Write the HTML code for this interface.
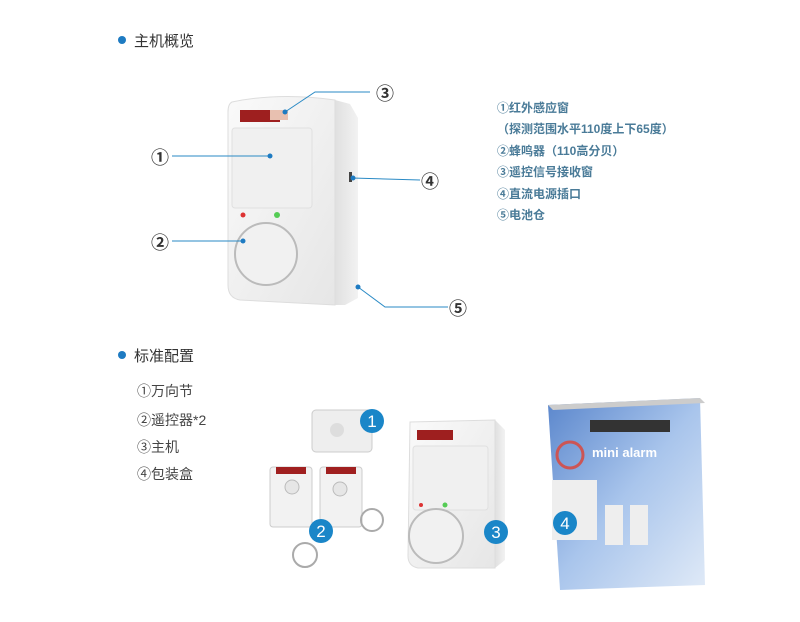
<!DOCTYPE html>
<html><head><meta charset="utf-8"><style>
body{margin:0;width:800px;height:622px;background:#fff;position:relative;overflow:hidden;font-family:"Liberation Sans","Noto Sans CJK SC",sans-serif}
.t{position:absolute;white-space:nowrap}
.h{font-size:15px;color:#333}
.r{font-size:12px;color:#4a7b98;font-weight:bold;left:497px}
.l{font-size:14px;color:#444;left:137px}
.c{font-size:18px;color:#333;font-weight:bold}
</style></head><body>
<svg width="800" height="622" style="position:absolute;left:0;top:0">
<defs>
<linearGradient id="side" x1="0" x2="1"><stop offset="0" stop-color="#e0e0e0"/><stop offset="1" stop-color="#f2f2f2"/></linearGradient>
<linearGradient id="face" x1="0" y1="0" x2="1" y2="1"><stop offset="0" stop-color="#fafafa"/><stop offset="1" stop-color="#e6e6e6"/></linearGradient>
<linearGradient id="box" x1="0" y1="0" x2="1" y2="1"><stop offset="0" stop-color="#5a86cc"/><stop offset="0.5" stop-color="#a9c5ec"/><stop offset="1" stop-color="#e0eaf7"/></linearGradient>
</defs>
<circle cx="122" cy="40" r="4" fill="#1e7bc2"/>
<circle cx="122" cy="355" r="4" fill="#1e7bc2"/>
<polygon points="335,100 350,104 358,118 358,298 345,305 335,305" fill="url(#side)"/>
<path d="M232,102 Q280,92 335,100 L335,305 L240,300 Q228,298 228,285 L228,112 Q228,104 232,102Z" fill="url(#face)" stroke="#ddd"/>
<rect x="240" y="110" width="40" height="12" fill="#9e1f1f"/>
<rect x="270" y="110" width="18" height="10" fill="#e8c0b0"/>
<rect x="232" y="128" width="80" height="80" rx="3" fill="#f0f0f0" stroke="#e0e0e0"/>
<circle cx="243" cy="215" r="2.5" fill="#d33"/>
<circle cx="277" cy="215" r="3" fill="#5c5"/>
<circle cx="266" cy="254" r="31" fill="#f1f1f1" stroke="#bbb" stroke-width="2"/>
<rect x="349" y="172" width="3" height="10" fill="#444"/>
<g stroke="#2a8ac5" stroke-width="1" fill="none">
<line x1="172" y1="156" x2="270" y2="156"/>
<line x1="172" y1="241" x2="243" y2="241"/>
<polyline points="370,92 315,92 285,112"/>
<line x1="352" y1="178" x2="420" y2="180"/>
<polyline points="358,287 385,307 448,307"/>
</g>
<g fill="#1e7bc2"><circle cx="270" cy="156" r="2.5"/><circle cx="243" cy="241" r="2.5"/><circle cx="285" cy="112" r="2.5"/><circle cx="353" cy="178" r="2.5"/><circle cx="358" cy="287" r="2.5"/></g>
<rect x="312" y="410" width="60" height="42" rx="4" fill="#eee" stroke="#ccc"/>
<circle cx="337" cy="430" r="7" fill="#ddd"/>
<rect x="270" y="467" width="42" height="60" rx="3" fill="#f2f2f2" stroke="#ccc"/>
<rect x="276" y="467" width="30" height="7" fill="#a02020"/>
<circle cx="292" cy="487" r="7" fill="#e6e6e6" stroke="#bbb"/>
<rect x="320" y="467" width="42" height="60" rx="3" fill="#f2f2f2" stroke="#ccc"/>
<rect x="326" y="467" width="30" height="7" fill="#a02020"/>
<circle cx="340" cy="489" r="7" fill="#e6e6e6" stroke="#bbb"/>
<circle cx="305" cy="555" r="12" fill="none" stroke="#aaa" stroke-width="2"/>
<circle cx="372" cy="520" r="11" fill="none" stroke="#aaa" stroke-width="2"/>
<polygon points="495,420 505,430 505,560 495,568" fill="url(#side)"/>
<path d="M410,422 L495,420 L495,568 L418,568 Q408,566 408,556Z" fill="url(#face)" stroke="#ddd"/>
<rect x="417" y="430" width="36" height="10" fill="#9e1f1f"/>
<rect x="413" y="446" width="75" height="64" rx="3" fill="#f0f0f0" stroke="#e0e0e0"/>
<circle cx="421" cy="505" r="2" fill="#d33"/><circle cx="445" cy="505" r="2.5" fill="#5c5"/>
<circle cx="436" cy="536" r="27" fill="#f1f1f1" stroke="#bbb" stroke-width="2"/>
<polygon points="548,405 700,398 705,585 560,590" fill="url(#box)"/>
<polygon points="548,405 700,398 705,403 553,410" fill="#ccc"/>
<rect x="590" y="420" width="80" height="12" fill="#333"/>
<text x="592" y="457" font-size="13" font-weight="bold" fill="#fff" font-family="Liberation Sans">mini alarm</text>
<circle cx="570" cy="455" r="13" fill="none" stroke="#c55" stroke-width="3"/>
<rect x="552" y="480" width="45" height="60" fill="#eee"/>
<rect x="605" y="505" width="18" height="40" fill="#eee"/>
<rect x="630" y="505" width="18" height="40" fill="#eee"/>
<g fill="#1a86c8"><circle cx="372" cy="421" r="12"/><circle cx="321" cy="531" r="12"/><circle cx="496" cy="532" r="12"/><circle cx="565" cy="523" r="12"/></g>
<g fill="#fff" font-size="17" font-family="Liberation Sans" text-anchor="middle"><text x="372" y="427">1</text><text x="321" y="537">2</text><text x="496" y="538">3</text><text x="565" y="529">4</text></g>
</svg>
<div class="t h" style="left:134px;top:30px">主机概览</div>
<div class="t h" style="left:134px;top:345px">标准配置</div>
<div class="t c" style="left:151px;top:144px">①</div>
<div class="t c" style="left:151px;top:229px">②</div>
<div class="t c" style="left:376px;top:80px">③</div>
<div class="t c" style="left:421px;top:168px">④</div>
<div class="t c" style="left:449px;top:295px">⑤</div>
<div class="t r" style="top:99px">①红外感应窗</div>
<div class="t r" style="top:120px">（探测范围水平110度上下65度）</div>
<div class="t r" style="top:142px">②蜂鸣器（110高分贝）</div>
<div class="t r" style="top:163px">③遥控信号接收窗</div>
<div class="t r" style="top:185px">④直流电源插口</div>
<div class="t r" style="top:206px">⑤电池仓</div>
<div class="t l" style="top:381px">①万向节</div>
<div class="t l" style="top:410px">②遥控器*2</div>
<div class="t l" style="top:437px">③主机</div>
<div class="t l" style="top:464px">④包装盒</div>
</body></html>
